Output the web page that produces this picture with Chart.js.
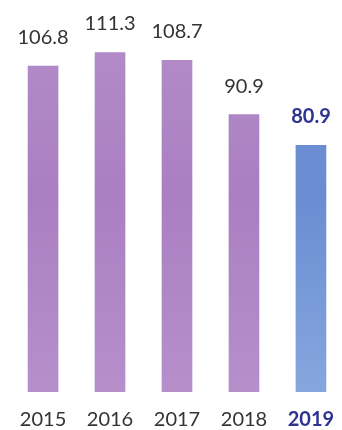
<!DOCTYPE html>
<html>
<head>
<meta charset="utf-8">
<script src="https://cdn.jsdelivr.net/npm/chart.js@4"></script>
<style>
  html, body { margin: 0; padding: 0; background: #fff; overflow: hidden; }
  #wrap { position: absolute; left: 3px; top: 0; width: 348px; height: 430px; }
</style>
</head>
<body>
<div id="wrap"><canvas id="barChart"></canvas></div>
<script>
var years = ['2015', '2016', '2017', '2018', '2019'];
var values = [106.8, 111.3, 108.7, 90.9, 80.9];
var highlight = [false, false, false, false, true];

var textColor = '#333333';
var boldColor = '#2d3391';

function barFill(context) {
    var chart = context.chart;
    var area = chart.chartArea;
    if (!area) return '#b08ac6';
    var g = chart.ctx.createLinearGradient(0, area.top, 0, area.bottom);
    if (highlight[context.dataIndex]) {
        g.addColorStop(0, '#6e91d4');
        g.addColorStop(0.5, '#6a8dd2');
        g.addColorStop(1, '#86a6de');
    } else {
        g.addColorStop(0, '#b48ec9');
        g.addColorStop(0.5, '#aa7fc2');
        g.addColorStop(1, '#b58fca');
    }
    return g;
}

var valueLabels = {
    id: 'valueLabels',
    afterDatasetsDraw: function (chart) {
        var ctx = chart.ctx;
        var meta = chart.getDatasetMeta(0);
        ctx.save();
        ctx.textAlign = 'center';
        ctx.textBaseline = 'alphabetic';
        meta.data.forEach(function (bar, i) {
            if (highlight[i]) {
                ctx.font = 'bold 20px Lato';
                ctx.fillStyle = boldColor;
            } else {
                ctx.font = '20px Lato';
                ctx.fillStyle = textColor;
            }
            ctx.fillText(values[i].toFixed(1), bar.x, bar.y - 22);
        });
        ctx.restore();
    }
};

var chart = new Chart(document.getElementById('barChart'), {
    type: 'bar',
    data: {
        labels: years,
        datasets: [{
            data: values,
            backgroundColor: barFill,
            borderWidth: 0,
            barThickness: 30
        }]
    },
    options: {
        responsive: true,
        maintainAspectRatio: false,
        animation: false,
        layout: { padding: 0 },
        plugins: {
            legend: { display: false },
            tooltip: { enabled: false }
        },
        scales: {
            x: {
                grid: { display: false, drawTicks: false },
                border: { display: false },
                afterFit: function (scale) { scale.height = 38; },
                ticks: {
                    padding: 17.5,
                    color: function (c) { return highlight[c.index] ? boldColor : textColor; },
                    font: function (c) {
                        return { family: 'Lato', size: 20, lineHeight: 1, weight: highlight[c.index] ? 'bold' : 'normal' };
                    }
                }
            },
            y: {
                display: false,
                min: 0,
                max: 128.5
            }
        }
    },
    plugins: [valueLabels]
});
</script>
</body>
</html>
